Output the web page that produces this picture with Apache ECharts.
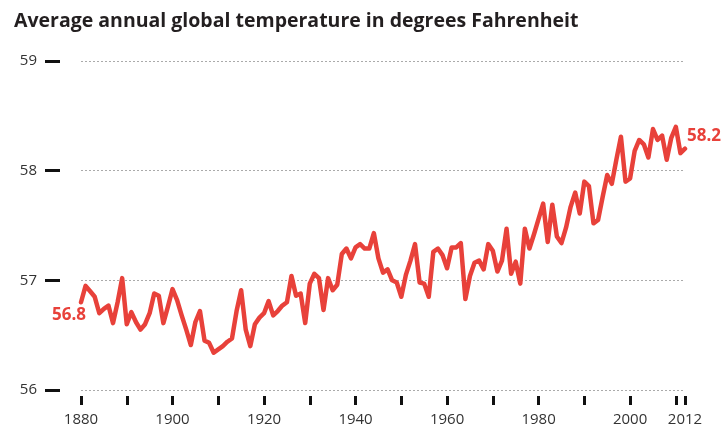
<!DOCTYPE html>
<html>
<head>
<meta charset="utf-8">
<title>Average annual global temperature</title>
<script src="https://cdn.jsdelivr.net/npm/echarts@6/dist/echarts.min.js"></script>
<style>
  html, body { margin: 0; padding: 0; background: #fff; }
  #chart { width: 724px; height: 432px; }
</style>
</head>
<body>
<div id="chart"></div>
<script>
// Annual mean global temperature, degrees Fahrenheit, 1880-2012
const years = [];
for (let y = 1880; y <= 2012; y++) years.push(y);

const temps = [
  56.80, 56.95, 56.90, 56.85, 56.70, 56.74, 56.77, 56.61, 56.80, 57.02, // 1880s
  56.60, 56.71, 56.62, 56.55, 56.60, 56.70, 56.88, 56.86, 56.61, 56.76, // 1890s
  56.92, 56.82, 56.68, 56.55, 56.41, 56.62, 56.72, 56.45, 56.43, 56.34, // 1900s
  56.37, 56.40, 56.44, 56.47, 56.72, 56.91, 56.55, 56.40, 56.60, 56.66, // 1910s
  56.70, 56.81, 56.68, 56.72, 56.77, 56.80, 57.04, 56.86, 56.88, 56.61, // 1920s
  56.97, 57.06, 57.02, 56.73, 57.02, 56.91, 56.96, 57.24, 57.29, 57.20, // 1930s
  57.30, 57.33, 57.29, 57.29, 57.43, 57.20, 57.07, 57.10, 57.00, 56.98, // 1940s
  56.85, 57.05, 57.18, 57.33, 56.98, 56.97, 56.85, 57.26, 57.29, 57.23, // 1950s
  57.11, 57.30, 57.30, 57.34, 56.83, 57.04, 57.16, 57.18, 57.10, 57.33, // 1960s
  57.27, 57.08, 57.18, 57.47, 57.06, 57.17, 56.97, 57.47, 57.29, 57.42, // 1970s
  57.56, 57.70, 57.35, 57.69, 57.40, 57.34, 57.48, 57.67, 57.80, 57.61, // 1980s
  57.90, 57.86, 57.52, 57.55, 57.76, 57.96, 57.88, 58.10, 58.31, 57.90, // 1990s
  57.93, 58.18, 58.28, 58.24, 58.12, 58.38, 58.28, 58.32, 58.10, 58.30, // 2000s
  58.40, 58.16, 58.20                                                   // 2010-2012
];

const yTicks = [56, 57, 58, 59];
const xLabelYears = [1880, 1900, 1920, 1940, 1960, 1980, 2000, 2012];

const red = '#e8413a';
const labelFont = { color: red, fontWeight: 'bold', fontSize: 17, fontFamily: 'Open Sans' };

// only the first and last points carry a value label
const seriesData = years.map((yr, i) => {
  const item = { value: [yr, temps[i]] };
  if (i === 0) {
    item.label = Object.assign({ show: true, position: 'bottom', distance: 4, offset: [-12, 0],
      formatter: p => p.value[1].toFixed(1) }, labelFont);
  } else if (i === years.length - 1) {
    item.label = Object.assign({ show: true, position: 'right', distance: 2, offset: [0, -13],
      formatter: p => p.value[1].toFixed(1) }, labelFont);
  }
  return item;
});

const chart = echarts.init(document.getElementById('chart'), null, { renderer: 'canvas' });
chart.setOption({
  animation: false,
  backgroundColor: '#ffffff',
  title: {
    text: 'Average annual global temperature in degrees Fahrenheit',
    left: 9,
    top: 6,
    textStyle: { fontFamily: 'Open Sans', fontWeight: 'bold', fontSize: 19.5, color: '#231f20' }
  },
  grid: { left: 81, right: 39, top: 61, bottom: 42, containLabel: false },
  xAxis: {
    type: 'value',
    min: 1880,
    max: 2012,
    interval: 10,
    offset: 6,
    axisLine: { show: false },
    axisTick: { show: true, length: 9, lineStyle: { color: '#111', width: 3 } },
    splitLine: { show: false },
    axisLabel: {
      margin: 16,
      fontFamily: 'Open Sans',
      fontSize: 15,
      color: '#333',
      showMaxLabel: true,
      formatter: v => (xLabelYears.indexOf(v) >= 0 ? String(v) : '')
    }
  },
  yAxis: {
    type: 'value',
    min: yTicks[0],
    max: yTicks[yTicks.length - 1],
    interval: 1,
    offset: 21,
    axisLine: { show: false },
    axisTick: { show: true, length: 15, lineStyle: { color: '#111', width: 3 } },
    axisLabel: { margin: 23, fontFamily: 'Open Sans', fontSize: 15, color: '#333' },
    splitLine: { show: true, lineStyle: { color: '#aaa', type: [2, 2], width: 1 } }
  },
  series: [{
    type: 'line',
    data: seriesData,
    showSymbol: true,
    symbol: 'circle',
    symbolSize: 0,
    lineStyle: { color: red, width: 4.5, join: 'round', cap: 'round' },
    itemStyle: { color: red },
    emphasis: { disabled: true },
    z: 3
  }]
});
</script>
</body>
</html>
